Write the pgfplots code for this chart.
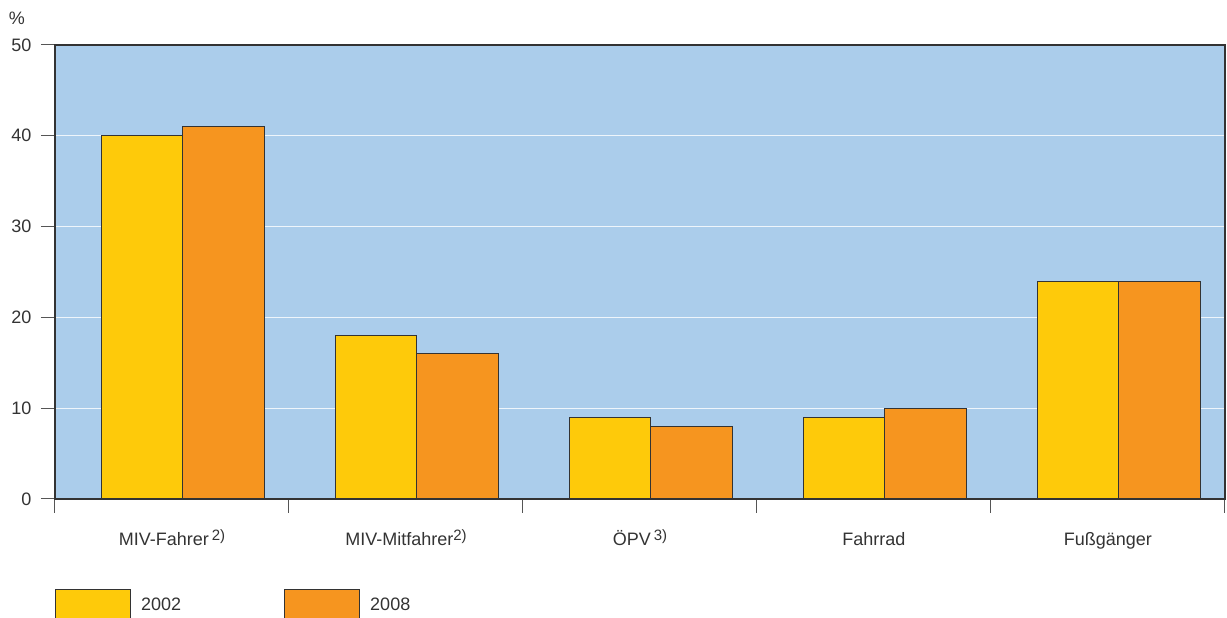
\documentclass[border=0pt]{standalone}
\usepackage{fontspec}
\setmainfont{Liberation Sans}
\usepackage{pgfplots}
\pgfplotsset{compat=1.18}
\definecolor{bg}{HTML}{ABCDEB}
\definecolor{y02}{HTML}{FECA0A}
\definecolor{o08}{HTML}{F6951F}
\definecolor{axc}{HTML}{333333}
\definecolor{tickc}{HTML}{555555}
\newcommand{\fn}[1]{\raisebox{5pt}{\fontsize{15}{15}\selectfont #1}}

\begin{document}
\begin{tikzpicture}
\begin{axis}[
  scale only axis, width=1170pt, height=454pt,
  xmin=-0.547, xmax=4.453, ymin=0, ymax=50,
  axis background/.style={fill=bg},
  axis line style={axc, line width=1.2pt},
  ytick={0,10,20,30,40,50},
  ymajorgrids, grid style={white!80!bg, line width=1pt},
  xtick={-0.547,0.453,1.453,2.453,3.453,4.453},
  xticklabels={},
  extra x ticks={-0.047,0.953,1.953,2.953,3.953},
  extra x tick labels={MIV-Fahrer\,\fn{2)},MIV-Mitfahrer\fn{2)},ÖPV\,\fn{3)},Fahrrad,Fußgänger},
  extra x tick style={major tick length=0pt, grid=none},
  xtick pos=bottom, ytick pos=left,
  tick align=outside, major tick length=14pt,
  tick style={tickc, line width=1pt},
  tick label style={font=\fontsize{18}{20}\selectfont, text=axc},
  xticklabel style={anchor=base, yshift=-47pt},
  yticklabel style={xshift=-6pt},
  /pgf/number format/assume math mode=true,
  legend columns=2,
  legend image code/.code={\draw[#1] (0pt,-15pt) rectangle (75pt,15pt);},
  legend style={at={(rel axis cs:0,-0.198)}, anchor=north west,
    draw=none, fill=none, inner sep=0pt,
    font=\fontsize{18}{20}\selectfont, text=axc,
    nodes={inner sep=0pt, text depth=0pt},
    /tikz/every odd column/.style={column sep=10pt},
    /tikz/every even column/.style={column sep=103pt}},
]
\addlegendimage{fill=y02, draw=axc, line width=1pt}
\addlegendentry{2002}
\addlegendimage{fill=o08, draw=axc, line width=1pt}
\addlegendentry{2008}

\addplot[ybar, bar width=0.35, bar shift=-0.175, fill=y02, draw=axc, line width=1pt, forget plot]
  coordinates {(0,40) (1,18) (2,9) (3,9) (4,24)};
\addplot[ybar, bar width=0.35, bar shift=0.175, fill=o08, draw=axc, line width=1pt, forget plot]
  coordinates {(0,41) (1,16) (2,8) (3,10) (4,24)};

\coordinate (ll) at (rel axis cs:0,0);
\coordinate (tl) at (rel axis cs:0,1);
\end{axis}
\node[font=\fontsize{18}{20}\selectfont, text=axc] at ([shift={(-38pt,27pt)}]tl) {\%};
\pgfresetboundingbox
\path ([shift={(-55pt,-119pt)}]ll) rectangle ([shift={(1172pt,499pt)}]ll);
\end{tikzpicture}
\end{document}
